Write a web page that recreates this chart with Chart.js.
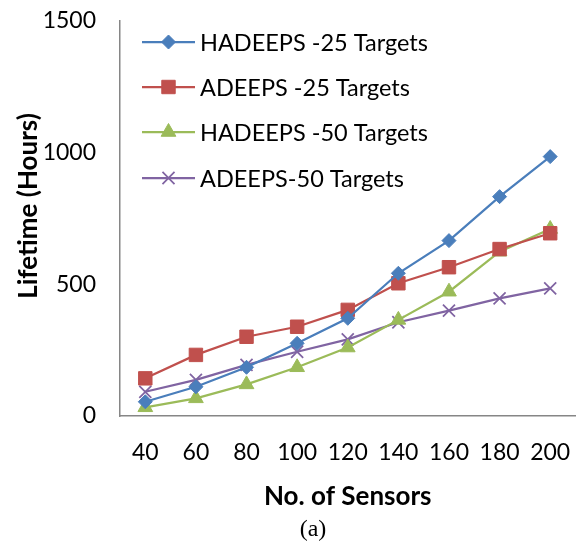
<!DOCTYPE html>
<html>
<head>
<meta charset="utf-8">
<script src="https://cdn.jsdelivr.net/npm/chart.js@4/dist/chart.umd.min.js"></script>
<style>
  html, body { margin: 0; padding: 0; background: #fff; }
  #wrap { width: 586px; height: 545px; position: relative; }
</style>
</head>
<body>
<div id="wrap"><canvas id="c" width="586" height="545"></canvas></div>
<script>
// Network size (number of sensors)
const sensors = ['40', '60', '80', '100', '120', '140', '160', '180', '200'];

// Network lifetime in hours for each scheme
const hadeeps25 = [54, 111, 185, 276, 371, 542, 666, 833, 985];
const adeeps25  = [143, 232, 301, 339, 403, 504, 565, 634, 694];
const hadeeps50 = [33, 67, 120, 185, 260, 365, 472, 624, 710];
const adeeps50  = [92, 137, 194, 244, 291, 356, 400, 447, 485];

const seriesNames = ['HADEEPS -25 Targets', 'ADEEPS -25 Targets', 'HADEEPS -50 Targets', 'ADEEPS-50 Targets'];
const yTicks = [0, 500, 1000, 1500];

const FONT = 'Lato, "Open Sans", sans-serif';

function series(label, data, color, style, radius, bw) {
  return {
    label, data,
    borderColor: color,
    backgroundColor: color,
    borderWidth: 2.25,
    pointStyle: style,
    pointRadius: radius,
    pointHoverRadius: radius,
    pointBorderWidth: bw,
    pointBorderColor: color,
    pointBackgroundColor: color,
    tension: 0,
    fill: false
  };
}

const datasets = [
  series(seriesNames[0], hadeeps25, '#4A7EBB', 'rectRot', 7, 1),
  series(seriesNames[1], adeeps25, '#C0504D', 'rect', 9.5, 1),
  series(seriesNames[2], hadeeps50, '#9BBB59', 'triangle', 8.5, 1),
  series(seriesNames[3], adeeps50, '#8064A2', 'crossRot', 8.5, 1.75)
];

// Legend drawn inside the plot area, top-left, one entry per row
const insideLegend = {
  id: 'insideLegend',
  afterDraw(chart) {
    const ctx = chart.ctx;
    const area = chart.chartArea;
    const x0 = area.left + 22, x1 = area.left + 75, xt = area.left + 80;
    const rows = [42, 87, 132, 178];
    ctx.save();
    chart.data.datasets.forEach((ds, i) => {
      const y = rows[i];
      ctx.strokeStyle = ds.borderColor;
      ctx.lineWidth = ds.borderWidth;
      ctx.beginPath();
      ctx.moveTo(x0, y);
      ctx.lineTo(x1, y);
      ctx.stroke();
      ctx.fillStyle = ds.pointBackgroundColor;
      ctx.strokeStyle = ds.pointBorderColor;
      ctx.lineWidth = ds.pointBorderWidth;
      Chart.helpers.drawPoint(ctx, { pointStyle: ds.pointStyle, radius: ds.pointRadius, borderWidth: ds.pointBorderWidth, rotation: 0 }, (x0 + x1) / 2, y);
      ctx.fillStyle = '#000';
      ctx.font = '23.5px ' + FONT;
      ctx.textBaseline = 'middle';
      ctx.textAlign = 'left';
      ctx.fillText(ds.label, xt, y + 1);
    });
    ctx.restore();
  }
};

// Axis titles and figure caption
const captions = {
  id: 'captions',
  afterDraw(chart) {
    const ctx = chart.ctx;
    const area = chart.chartArea;
    ctx.save();
    ctx.fillStyle = '#000';
    ctx.textAlign = 'center';
    ctx.textBaseline = 'middle';
    ctx.font = 'bold 26px ' + FONT;
    ctx.fillText('No. of Sensors', (area.left + area.right) / 2, 497);
    ctx.save();
    ctx.translate(29, 206);
    ctx.rotate(-Math.PI / 2);
    ctx.fillText('Lifetime (Hours)', 0, 0);
    ctx.restore();
    ctx.font = '24px "Liberation Serif", "Times New Roman", serif';
    ctx.fillText('(a)', 313, 530);
    ctx.restore();
  }
};

new Chart(document.getElementById('c'), {
  type: 'line',
  data: { labels: sensors, datasets },
  plugins: [insideLegend, captions],
  options: {
    responsive: false,
    animation: false,
    devicePixelRatio: 1,
    layout: { padding: { top: 21, right: 3, left: 0, bottom: 0 } },
    plugins: { legend: { display: false }, tooltip: { enabled: false } },
    scales: {
      x: {
        type: 'category',
        offset: true,
        grid: { display: false, drawTicks: false },
        border: { display: true, color: '#868686', width: 1.5 },
        ticks: { color: '#000', font: { family: FONT, size: 23 }, padding: 23, maxRotation: 0, autoSkip: false },
        afterFit(scale) { scale.height = 129; scale.paddingLeft = 0; scale.paddingRight = 0; }
      },
      y: {
        min: 0, max: 1500,
        afterBuildTicks(scale) { scale.ticks = yTicks.map(v => ({ value: v })); },
        grid: { display: false, drawTicks: false },
        border: { display: true, color: '#868686', width: 1.5 },
        ticks: { color: '#000', font: { family: FONT, size: 23 }, padding: 24, callback: v => String(v) },
        afterFit(scale) { scale.width = 120; scale.paddingTop = 0; scale.paddingBottom = 0; }
      }
    }
  }
});
</script>
</body>
</html>
